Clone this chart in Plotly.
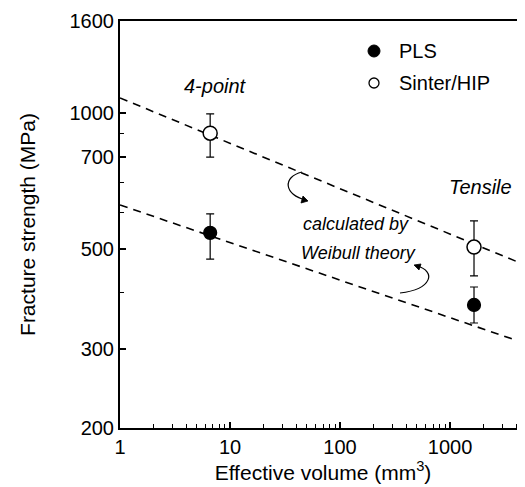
import plotly.graph_objects as go

# ---- data ----
volume = [6.6, 1650]                      # effective volume (mm^3): 4-point, tensile
pls_strength = [542, 375]                 # MPa
pls_err_plus = [55, 36]
pls_err_minus = [68, 33]
sinter_strength = [902, 504]              # MPa
sinter_err_plus = [93, 72]
sinter_err_minus = [104, 69]

weibull_volume = [1, 4500]
weibull_sinter = [1080, 463]              # calculated by Weibull theory
weibull_pls = [625, 310]

series_names = ["PLS", "Sinter/HIP"]
y_tickvals = [200, 300, 500, 800, 1000, 1600]
y_ticktext = ["200", "300", "500", "700", "1000", "1600"]
y_minor = [400, 600, 700, 900]
x_tickvals = [1, 10, 100, 1000]
x_ticktext = ["1", "10", "100", "1000"]

W, H = 525, 487
L, R, T, B = 112, 7, 13, 67
PW, PH = W - L - R, H - T - B


def px(x):
    return (x - L) / PW


def py(y):
    return (H - B - y) / PH


def pt(x, y):
    return f"{px(x):.5f},{py(y):.5f}"


FONT = "Liberation Sans, Arial, sans-serif"

fig = go.Figure()

for yv in (weibull_sinter, weibull_pls):
    fig.add_trace(go.Scatter(x=weibull_volume, y=yv, mode="lines",
                             line=dict(color="black", width=1.6, dash="8px,6px"),
                             showlegend=False, hoverinfo="skip"))

fig.add_trace(go.Scatter(
    x=volume, y=pls_strength, mode="markers", name=series_names[0], showlegend=False,
    marker=dict(symbol="circle", size=13, color="black", line=dict(color="black", width=1.2)),
    error_y=dict(type="data", array=pls_err_plus, arrayminus=pls_err_minus,
                 color="black", thickness=1.2, width=4)))
fig.add_trace(go.Scatter(
    x=volume, y=sinter_strength, mode="markers", name=series_names[1], showlegend=False,
    marker=dict(symbol="circle", size=14, color="white", line=dict(color="black", width=1.5)),
    error_y=dict(type="data", array=sinter_err_plus, arrayminus=sinter_err_minus,
                 color="black", thickness=1.2, width=4)))

ann_font = dict(family=FONT, size=18, color="black")
big_font = dict(family=FONT, size=20, color="black")
annotations = [
    dict(text="<i>4-point</i>", x=px(207), y=py(78), xanchor="center", font=big_font),
    dict(text="<i>Tensile</i>", x=px(472), y=py(179), xanchor="center", font=big_font),
    dict(text="<i>calculated by</i>", x=px(293), y=py(216), xanchor="left"),
    dict(text="<i>Weibull theory</i>", x=px(291), y=py(245), xanchor="left"),
    # legend texts
    dict(text=series_names[0], x=px(389), y=py(43), xanchor="left", font=big_font),
    dict(text=series_names[1], x=px(389), y=py(75), xanchor="left", font=big_font),
]
for a in annotations:
    a.setdefault("font", ann_font)
    a.update(xref="paper", yref="paper", showarrow=False, yanchor="middle")

shapes = [
    # curved pointers
    dict(type="path", xref="paper", yref="paper",
         path=f"M {pt(294, 164)} C {pt(274, 169)} {pt(276, 187)} {pt(298, 192)}",
         line=dict(color="black", width=1.2)),
    dict(type="path", xref="paper", yref="paper",
         path=f"M {pt(409, 258)} C {pt(428, 263)} {pt(425, 281)} {pt(392, 285)}",
         line=dict(color="black", width=1.2)),
    # arrowheads
    dict(type="path", xref="paper", yref="paper",
         path=f"M {pt(300, 193)} L {pt(293, 195)} L {pt(295, 188)} Z",
         fillcolor="black", line=dict(color="black", width=0.8)),
    dict(type="path", xref="paper", yref="paper",
         path=f"M {pt(406, 257)} L {pt(413, 256)} L {pt(411, 262)} Z",
         fillcolor="black", line=dict(color="black", width=0.8)),
    # legend symbols
    dict(type="circle", xref="paper", yref="paper", xsizemode="pixel", ysizemode="pixel",
         xanchor=px(366), yanchor=py(43), x0=-6, x1=6, y0=-6, y1=6,
         fillcolor="black", line=dict(color="black", width=1)),
    dict(type="circle", xref="paper", yref="paper", xsizemode="pixel", ysizemode="pixel",
         xanchor=px(366), yanchor=py(75), x0=-5, x1=5, y0=-5, y1=5,
         fillcolor="white", line=dict(color="black", width=1.3)),
]

axis_common = dict(type="log", showline=True, linecolor="black", linewidth=2, mirror=True,
                   ticks="inside", tickcolor="black", tickwidth=1.5, ticklen=6,
                   showgrid=False, zeroline=False,
                   tickfont=dict(family=FONT, size=20, color="black"))

fig.update_layout(
    width=W, height=H,
    margin=dict(l=L, r=R, t=T, b=B, autoexpand=False),
    paper_bgcolor="white", plot_bgcolor="white",
    font=dict(family=FONT, size=18, color="black"),
    showlegend=False,
    xaxis=dict(range=[0, 3.69], tickvals=x_tickvals, ticktext=x_ticktext,
               title=dict(text="Effective volume (mm<sup>3</sup>)",
                          font=dict(family=FONT, size=21), standoff=7),
               minor=dict(ticks="inside", ticklen=4, tickcolor="black", tickwidth=1.2,
                          tickvals=[m * d for d in (1, 10, 100, 1000) for m in range(2, 10)]),
               **axis_common),
    yaxis=dict(range=[2.30103, 3.20412], tickvals=y_tickvals, ticktext=y_ticktext,
               title=dict(text="Fracture strength (MPa)",
                          font=dict(family=FONT, size=21), standoff=28),
               minor=dict(ticks="inside", ticklen=4, tickcolor="black", tickwidth=1.2,
                          tickvals=y_minor),
               **axis_common),
    annotations=annotations,
    shapes=shapes,
)

fig.write_html("out.html")
